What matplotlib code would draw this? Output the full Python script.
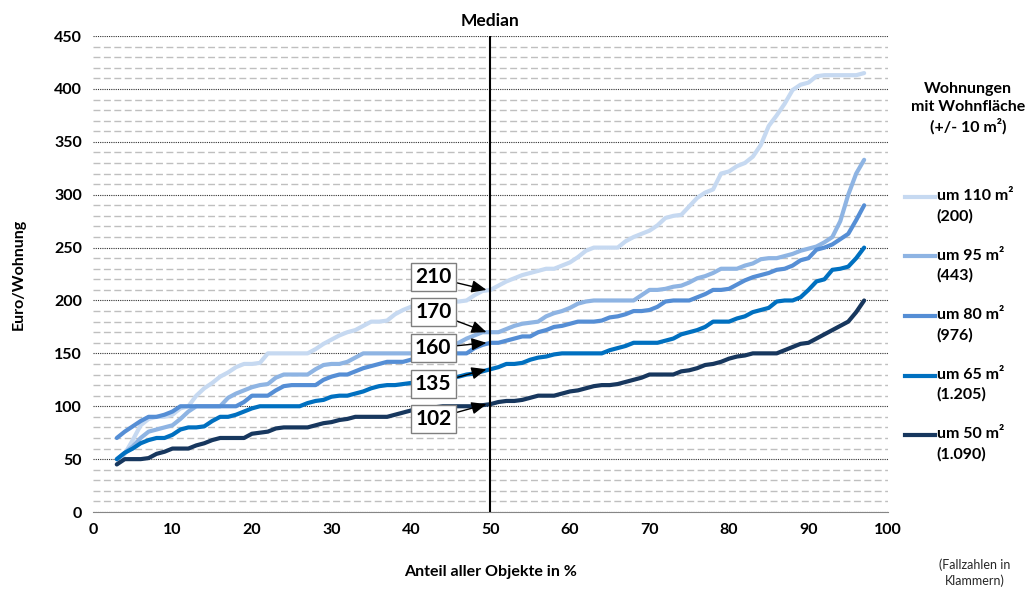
import matplotlib
matplotlib.use('Agg')
import matplotlib.pyplot as plt
from matplotlib.lines import Line2D
import numpy as np

plt.rcParams['font.family'] = ['Lato', 'DejaVu Sans']

# share of all objects (percent) for each point of the curves
anteil = list(range(3, 98))

# Euro/Wohnung per percentile, one list per flat size
um_110 = [45, 55, 68, 82, 88, 90, 90, 92, 98, 100, 110, 117, 122, 128, 132, 137, 140, 140, 141, 150,
          150, 150, 150, 150, 150, 154, 159, 163, 167, 170, 172, 176, 180, 180, 181, 187, 191, 194, 196, 197,
          198, 199, 199, 199, 200, 205, 209, 210, 214, 218, 221, 224, 226, 228, 230, 230, 233, 236, 241, 247,
          250, 250, 250, 250, 256, 260, 263, 266, 271, 278, 280, 281, 289, 297, 302, 305, 320, 322, 327, 330,
          336, 347, 365, 375, 386, 399, 404, 406, 412, 413, 413, 413, 413, 413, 415]
um_95 = [50, 56, 62, 70, 76, 78, 80, 82, 88, 95, 100, 100, 100, 100, 108, 112, 115, 118, 120, 121,
         127, 130, 130, 130, 130, 135, 139, 140, 140, 142, 146, 150, 150, 150, 150, 150, 150, 150, 150, 151,
         153, 154, 156, 160, 164, 167, 170, 170, 170, 173, 176, 178, 179, 180, 185, 188, 190, 193, 197, 199,
         200, 200, 200, 200, 200, 200, 205, 210, 210, 211, 213, 214, 217, 221, 223, 226, 230, 230, 230, 233,
         235, 239, 240, 240, 242, 244, 247, 249, 251, 255, 260, 275, 300, 320, 333]
um_80 = [70, 76, 81, 86, 90, 90, 92, 95, 100, 100, 100, 100, 100, 100, 100, 100, 104, 110, 110, 110,
         115, 119, 120, 120, 120, 120, 125, 128, 130, 130, 133, 136, 138, 140, 142, 142, 142, 144, 147, 150,
         150, 150, 150, 150, 150, 155, 158, 160, 160, 162, 164, 166, 166, 170, 172, 175, 176, 178, 180, 180,
         180, 181, 184, 185, 187, 190, 190, 191, 194, 199, 200, 200, 200, 203, 206, 210, 210, 211, 215, 219,
         222, 224, 226, 229, 230, 233, 238, 240, 248, 250, 253, 258, 263, 276, 290]
um_65 = [50, 56, 60, 65, 68, 70, 70, 73, 78, 80, 80, 81, 86, 90, 90, 92, 95, 98, 100, 100,
         100, 100, 100, 100, 103, 105, 106, 109, 110, 110, 112, 114, 117, 119, 120, 120, 121, 122, 122, 123,
         124, 125, 127, 128, 130, 131, 133, 135, 137, 140, 140, 141, 144, 146, 147, 149, 150, 150, 150, 150,
         150, 150, 153, 155, 157, 160, 160, 160, 160, 162, 164, 168, 170, 172, 175, 180, 180, 180, 183, 185,
         189, 191, 193, 199, 200, 200, 203, 210, 218, 220, 229, 230, 232, 240, 250]
um_50 = [45, 50, 50, 50, 51, 55, 57, 60, 60, 60, 63, 65, 68, 70, 70, 70, 70, 74, 75, 76,
         79, 80, 80, 80, 80, 82, 84, 85, 87, 88, 90, 90, 90, 90, 90, 92, 94, 96, 97, 98,
         99, 100, 100, 100, 100, 100, 101, 102, 104, 105, 105, 106, 108, 110, 110, 110, 112, 114, 115, 117,
         119, 120, 120, 121, 123, 125, 127, 130, 130, 130, 130, 133, 134, 136, 139, 140, 142, 145, 147, 148,
         150, 150, 150, 150, 153, 156, 159, 160, 164, 168, 172, 176, 180, 189, 200]

series = [um_110, um_95, um_80, um_65, um_50]
labels = ['um 110 m²\n(200)', 'um 95 m²\n(443)', 'um 80 m²\n(976)', 'um 65 m²\n(1.205)', 'um 50 m²\n(1.090)']
colors = ['#C6D9F1', '#8EB4E3', '#558ED5', '#0070C0', '#17375E']

median_x = 50
median_vals = [210, 170, 160, 135, 102]
box_y = [222, 189, 155, 121, 88]

fig = plt.figure(figsize=(10.34, 5.92), dpi=100)
ax = fig.add_axes([0.0899, 0.1351, 0.7689, 0.804])

for vals, col in zip(series, colors):
    ax.plot(anteil, vals, color=col, linewidth=3, solid_capstyle='round', zorder=3)

ax.set_xlim(0, 100)
ax.set_ylim(0, 450)
ax.set_xticks(np.arange(0, 101, 10))
ax.set_yticks(np.arange(0, 451, 50))
ax.set_yticks(np.arange(0, 451, 10), minor=True)
ax.grid(axis='y', which='minor', color='#BFBFBF', linestyle=(0, (5, 2.5)), linewidth=1, zorder=0)
ax.grid(axis='y', which='major', color='#303030', linestyle=(0, (1, 1)), linewidth=0.8, zorder=1)
ax.tick_params(axis='both', which='both', length=0, labelsize=11.5, pad=8)
for lab in ax.get_xticklabels() + ax.get_yticklabels():
    lab.set_fontweight('bold')
for s in ['top', 'right', 'left']:
    ax.spines[s].set_visible(False)
ax.spines['bottom'].set_color('#868686')

ax.set_xlabel('Anteil aller Objekte in %', fontsize=11.5, fontweight='bold', labelpad=20)
ax.set_ylabel('Euro/Wohnung', fontsize=11.5, fontweight='bold', labelpad=20)

# median line
ax.axvline(median_x, color='black', linewidth=1.5, zorder=4)
ax.text(median_x, 457, 'Median', ha='center', va='bottom', fontsize=12.5, fontweight='bold')

for val, by in zip(median_vals, box_y):
    ax.annotate(str(val), xy=(median_x - 0.5, val), xytext=(42.8, by),
                ha='center', va='center', fontsize=15, fontweight='bold', zorder=6,
                bbox=dict(boxstyle='square,pad=0.2', fc='white', ec='#7F7F7F', lw=1),
                arrowprops=dict(arrowstyle='-|>,head_length=0.6,head_width=0.25',
                                color='black', lw=1, shrinkA=0, shrinkB=0))

# legend drawn by hand on the right
fig.text(0.936, 0.817, 'Wohnungen\nmit Wohnfläche\n(+/- 10 m²)', ha='center', va='center',
         fontsize=11.5, fontweight='bold', linespacing=1.35)
for i, (lab, col) in enumerate(zip(labels, colors)):
    ytop = 1 - (197 + i * 59.5) / 592
    fig.add_artist(Line2D([0.875, 0.904], [ytop, ytop], color=col, linewidth=3,
                          transform=fig.transFigure))
    fig.text(0.906, ytop + 0.013, lab, ha='left', va='top', fontsize=11.5,
             fontweight='bold', linespacing=1.5)

fig.text(0.943, 0.032, '(Fallzahlen in\nKlammern)', ha='center', va='center',
         fontsize=9, linespacing=1.3, color='#262626')

plt.savefig('out.png', dpi=100)
plt.close()
